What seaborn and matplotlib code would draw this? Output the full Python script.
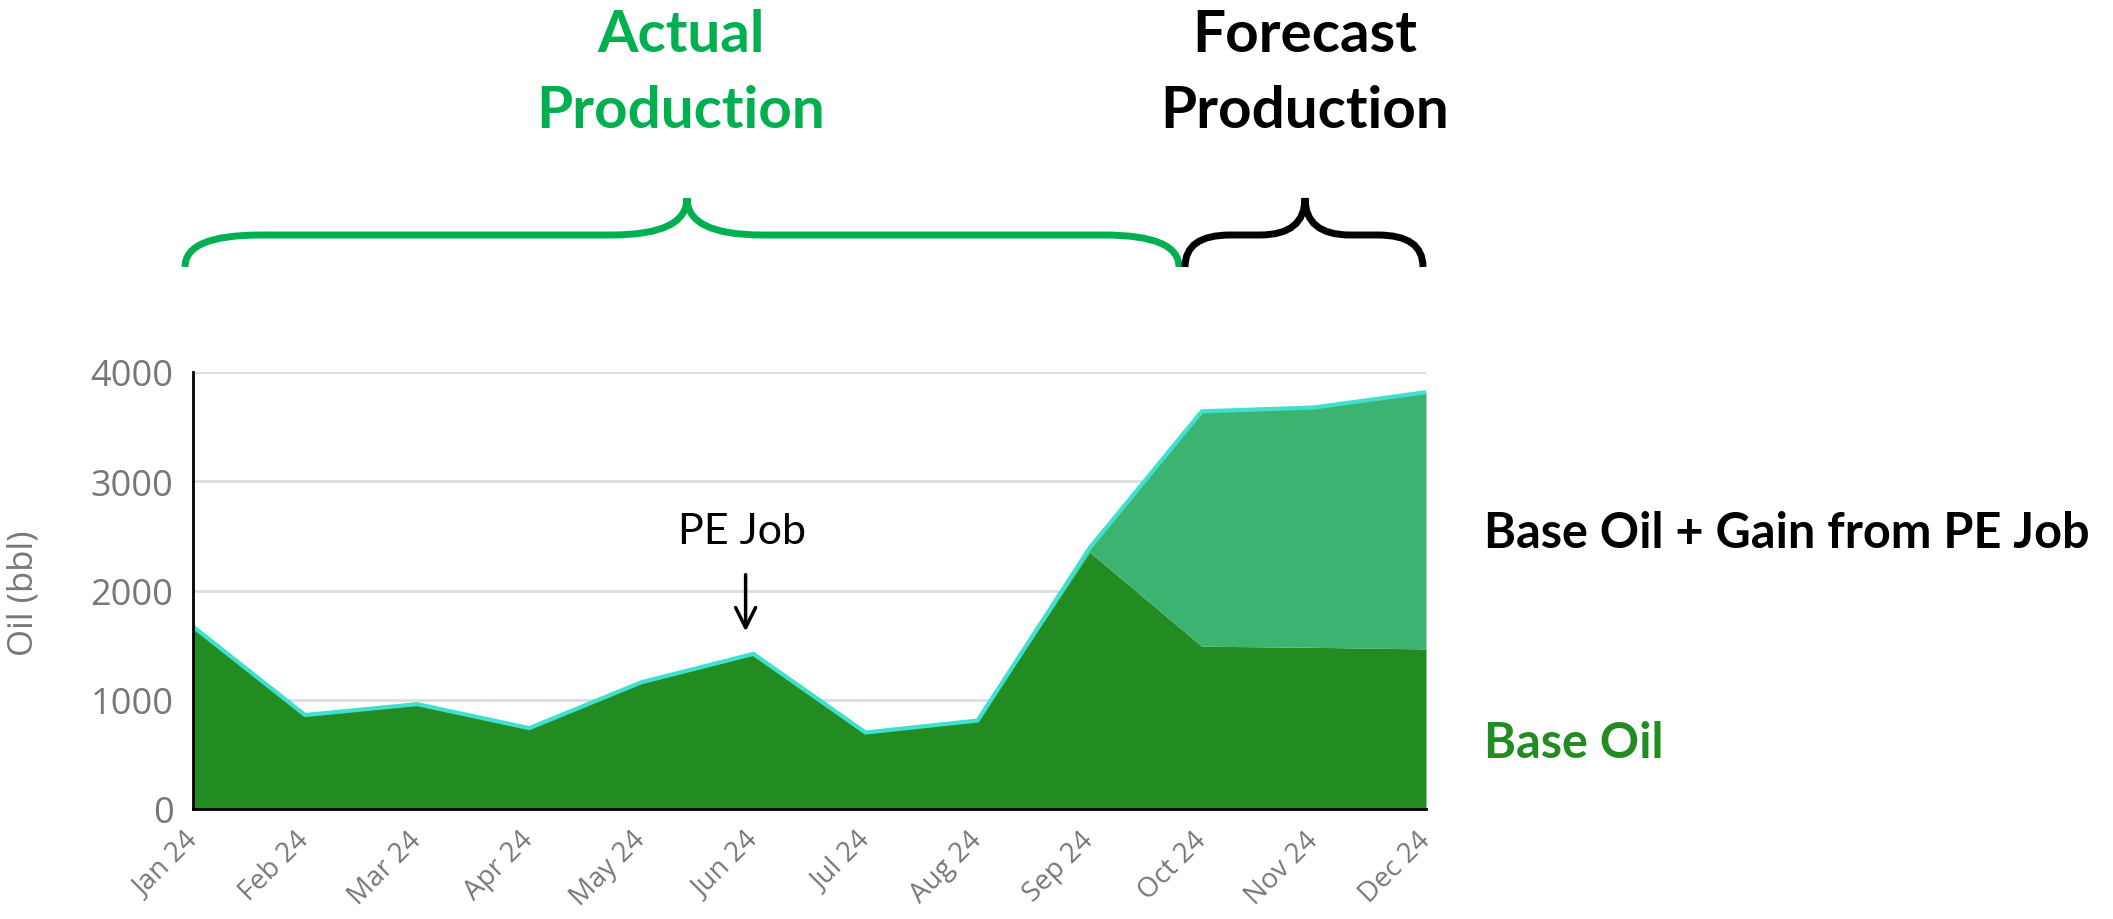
"""
Oil production: actual vs forecast, base oil and gain from PE job.
"""
import numpy as np
import pandas as pd
import matplotlib
matplotlib.use('Agg')
import matplotlib.pyplot as plt
import matplotlib.transforms as mtransforms
from matplotlib.path import Path
from matplotlib.patches import PathPatch
import seaborn as sns

months = ['Jan 24', 'Feb 24', 'Mar 24', 'Apr 24', 'May 24', 'Jun 24',
          'Jul 24', 'Aug 24', 'Sep 24', 'Oct 24', 'Nov 24', 'Dec 24']
base_oil = [1670, 860, 960, 740, 1160, 1420, 700, 810, 2350, 1490, 1480, 1465]
total_oil = [1670, 860, 960, 740, 1160, 1420, 700, 810, 2390, 3640, 3675, 3815]
y_ticks = [0, 1000, 2000, 3000, 4000]

BASE_GREEN = '#228B22'
GAIN_GREEN = '#3CB371'
LINE_CYAN = '#40E0D0'
TITLE_GREEN = '#00B050'
GREY = '#777777'

W, H = 2113, 920

sns.set_style('white')
plt.rcParams['font.family'] = ['Open Sans', 'DejaVu Sans']

df = pd.DataFrame({'month': months, 'idx': np.arange(len(months)),
                   'base': base_oil, 'total': total_oil})

fig = plt.figure(figsize=(W / 100, H / 100), dpi=100)
ax = fig.add_axes([193 / W, 1 - 810 / H, (1426 - 193) / W, (810 - 373) / H])

ax.fill_between(df['idx'], 0, df['base'], color=BASE_GREEN, lw=0, zorder=2)
ax.fill_between(df['idx'], df['base'], df['total'], color=GAIN_GREEN, lw=0, zorder=2)
sns.lineplot(data=df, x='idx', y='total', color=LINE_CYAN, lw=3, ax=ax, zorder=3)

ax.set_xlim(0, len(months) - 1)
ax.set_ylim(0, 4000)
ax.set_xlabel('')
ax.set_ylabel('')
ax.yaxis.grid(True, color='#dcdcdc', lw=2)
ax.xaxis.grid(False)
ax.set_axisbelow(True)

ax.set_yticks(y_ticks)
ax.set_yticklabels([str(v) for v in y_ticks], fontsize=26, color=GREY)
ax.set_xticks(df['idx'])
ax.set_xticklabels(months, rotation=45, ha='right', fontsize=20, color=GREY)
ax.tick_params(axis='both', length=0)
ax.tick_params(axis='y', pad=14)
ax.tick_params(axis='x', pad=12)
shift = mtransforms.ScaledTranslation(10 / 100, 0, fig.dpi_scale_trans)
for lbl in ax.get_xticklabels():
    lbl.set_transform(lbl.get_transform() + shift)

sns.despine(ax=ax)
for side in ['left', 'bottom']:
    ax.spines[side].set_color('black')
    ax.spines[side].set_linewidth(2)
    ax.spines[side].set_zorder(4)

fig.text(24 / W, 1 - 593 / H, 'Oil (bbl)', rotation=90, ha='center', va='center',
         fontsize=25, color=GREY)

# PE job marker
ax.annotate('', xy=(4.93, 1600), xytext=(4.93, 2170),
            arrowprops=dict(arrowstyle='->', lw=2.5, color='black', mutation_scale=36))
ax.text(4.9, 2545, 'PE Job', ha='center', va='center', fontsize=31,
        family=['Lato', 'DejaVu Sans'], color='black')

# headers above the chart
title_font = ['Lato', 'DejaVu Sans']
fig.text(681 / W, 1 - 52 / H, 'Actual', ha='center', va='baseline', fontsize=42,
         fontweight='bold', family=title_font, color=TITLE_GREEN)
fig.text(681 / W, 1 - 128 / H, 'Production', ha='center', va='baseline', fontsize=42,
         fontweight='bold', family=title_font, color=TITLE_GREEN)
fig.text(1305 / W, 1 - 52 / H, 'Forecast', ha='center', va='baseline', fontsize=42,
         fontweight='bold', family=title_font, color='black')
fig.text(1305 / W, 1 - 128 / H, 'Production', ha='center', va='baseline', fontsize=42,
         fontweight='bold', family=title_font, color='black')

# right-hand labels
fig.text(1484 / W, 1 - 548 / H, 'Base Oil + Gain from PE Job', ha='left', va='baseline',
         fontsize=35, fontweight='bold', family=title_font, color='black')
fig.text(1484 / W, 1 - 758 / H, 'Base Oil', ha='left', va='baseline',
         fontsize=35, fontweight='bold', family=title_font, color=BASE_GREEN)


def brace(x0, x1, xm, rx, color, yb=268, ybar=236, ytip=199):
    P = lambda x, y: (x / W, 1 - y / H)
    verts = [P(x0, yb), P(x0, ybar), P(x0 + rx, ybar), P(xm - rx, ybar),
             P(xm, ybar), P(xm, ytip), P(xm, ybar), P(xm + rx, ybar),
             P(x1 - rx, ybar), P(x1, ybar), P(x1, yb)]
    codes = [Path.MOVETO, Path.CURVE3, Path.CURVE3, Path.LINETO,
             Path.CURVE3, Path.CURVE3, Path.CURVE3, Path.CURVE3,
             Path.LINETO, Path.CURVE3, Path.CURVE3]
    patch = PathPatch(Path(verts, codes), transform=fig.transFigure, fill=False,
                      edgecolor=color, lw=5, capstyle='butt')
    fig.add_artist(patch)


brace(185, 1179, 687, 75, TITLE_GREEN)
brace(1185, 1423, 1305, 45, 'black')

fig.savefig('out.png', dpi=100)
plt.close(fig)
